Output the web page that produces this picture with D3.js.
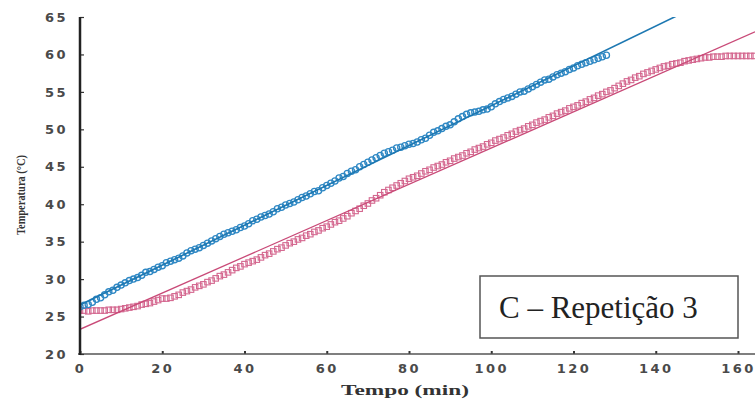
<!DOCTYPE html>
<html><head><meta charset="utf-8">
<script src="https://cdn.jsdelivr.net/npm/d3@7"></script>
<style>body{margin:0;background:#fff}svg{display:block}</style>
</head><body>
<svg id="c" width="755" height="402"></svg>
<script>
// ---- data ----
const xTicks = [0,20,40,60,80,100,120,140,160];
const yTicks = [20,25,30,35,40,45,50,55,60,65];
// Series 1 (blue circles), one reading per minute starting at t=0
const blueTemp = [26.3,26.5,26.6,26.9,27.3,27.5,27.9,28.3,28.5,28.9,
29.2,29.5,29.8,30.0,30.2,30.5,30.9,31.0,31.3,31.6,
31.8,32.2,32.4,32.6,32.8,33.1,33.5,33.8,34.0,34.2,
34.5,34.8,35.1,35.4,35.7,36.0,36.2,36.4,36.6,36.9,
37.1,37.4,37.8,38.0,38.3,38.5,38.7,39.0,39.4,39.6,
39.9,40.1,40.3,40.6,40.9,41.1,41.4,41.7,41.8,42.2,
42.5,42.8,43.1,43.5,43.7,44.1,44.4,44.6,45.0,45.3,
45.6,45.9,46.2,46.5,46.8,47.0,47.2,47.5,47.6,47.8,
48.0,48.1,48.3,48.6,48.8,49.2,49.6,49.8,50.1,50.4,
50.6,51.0,51.4,51.7,52.0,52.2,52.3,52.4,52.6,52.7,
53.0,53.4,53.7,54.0,54.2,54.4,54.7,55.0,55.1,55.4,
55.7,56.0,56.3,56.6,56.7,57.0,57.3,57.5,57.7,58.0,
58.2,58.5,58.7,58.9,59.1,59.3,59.5,59.7,59.9];
// Series 2 (pink squares), one reading per minute starting at t=0
const pinkTemp = [25.8,25.8,25.7,25.8,25.8,25.8,25.8,25.9,25.9,25.9,
26.0,26.1,26.2,26.3,26.4,26.6,26.7,26.8,27.0,27.2,
27.4,27.4,27.5,27.7,27.9,28.2,28.4,28.6,28.9,29.1,
29.3,29.6,29.8,30.1,30.4,30.6,30.9,31.2,31.5,31.7,
32.0,32.2,32.4,32.6,32.9,33.2,33.4,33.7,34.0,34.2,
34.5,34.8,35.0,35.3,35.5,35.8,36.0,36.3,36.5,36.8,
37.0,37.3,37.6,37.8,38.1,38.4,38.8,39.1,39.4,39.8,
40.1,40.5,40.8,41.2,41.6,41.9,42.2,42.5,42.8,43.1,
43.4,43.6,43.8,44.1,44.4,44.6,44.9,45.1,45.3,45.6,
45.8,46.1,46.3,46.5,46.8,47.0,47.3,47.5,47.7,48.0,
48.2,48.5,48.7,48.9,49.2,49.4,49.7,49.9,50.1,50.4,
50.6,50.9,51.1,51.3,51.6,51.8,52.1,52.3,52.5,52.8,
53.0,53.2,53.5,53.7,54.0,54.2,54.5,54.7,55.0,55.2,
55.5,55.8,56.1,56.4,56.6,56.9,57.1,57.4,57.6,57.8,
58.0,58.2,58.4,58.5,58.7,58.8,58.9,59.1,59.2,59.3,
59.4,59.5,59.6,59.6,59.7,59.7,59.7,59.8,59.8,59.8,
59.8,59.8,59.8,59.8,59.8];
// Linear fits: [intercept, slope]
const blueFit = [26.55, 0.266];
const pinkFit = [23.3, 0.242];
const annotation = "C – Repetição 3";
const xTitle = "Tempo (min)";
const yTitle = "Temperatura (°C)";

// ---- chart ----
const svg = d3.select("#c");
const x = d3.scaleLinear().domain([0,160]).range([80,738]);
const y = d3.scaleLinear().domain([20,65]).range([354,17]);
const xMax = x.invert(755);

svg.append("defs").append("clipPath").attr("id","clip")
  .append("rect").attr("x",80).attr("y",y(65)).attr("width",755-80).attr("height",y(20)-y(65));

const plot = svg.append("g").attr("clip-path","url(#clip)");

const pinkData = pinkTemp.map((v,i)=>({t:i,v}));
const blueData = blueTemp.map((v,i)=>({t:i,v}));
const sq = 5.5;
plot.append("g").selectAll("rect").data(pinkData).join("rect")
  .attr("x",d=>x(d.t)-sq/2).attr("y",d=>y(d.v)-sq/2)
  .attr("width",sq).attr("height",sq)
  .attr("fill","none").attr("stroke","#d4678f").attr("stroke-width",1.1);

plot.append("g").selectAll("circle").data(blueData).join("circle")
  .attr("cx",d=>x(d.t)).attr("cy",d=>y(d.v)).attr("r",3.1)
  .attr("fill","none").attr("stroke","#2f88c4").attr("stroke-width",1.3);

// fit lines
const line = d3.line().x(d=>x(d[0])).y(d=>y(d[1]));
function fitPts(f){ return [[0,f[0]],[xMax,f[0]+f[1]*xMax]]; }
plot.append("path").attr("d",line(fitPts(pinkFit)))
  .attr("stroke","#c94a78").attr("stroke-width",1.3).attr("fill","none");
plot.append("path").attr("d",line(fitPts(blueFit)))
  .attr("stroke","#1d78b2").attr("stroke-width",1.6).attr("fill","none");

// axes
const xAxis = d3.axisBottom(x).tickValues(xTicks).tickSize(0).tickPadding(7);
const gx = svg.append("g").attr("transform",`translate(0,${y(20)})`).call(xAxis);
gx.select(".domain").remove();
svg.append("line").attr("x1",78).attr("x2",755).attr("y1",y(20)).attr("y2",y(20))
  .attr("stroke","#555").attr("stroke-width",1.5);
gx.selectAll(".tick").append("rect").attr("x",-1).attr("y",-3).attr("width",2).attr("height",3).attr("fill","#333");
gx.selectAll("text").attr("font-family","DejaVu Sans").attr("font-weight","bold")
  .attr("font-size",13).attr("letter-spacing","2.5px").attr("fill","#4a4a4a").attr("dy","0.9em");

const yAxis = d3.axisLeft(y).tickValues(yTicks).tickSize(0).tickPadding(12);
const gy = svg.append("g").attr("transform",`translate(${x(0)},0)`).call(yAxis);
gy.select(".domain").remove();
svg.append("line").attr("x1",x(0)).attr("x2",x(0)).attr("y1",y(65)).attr("y2",y(20)+1)
  .attr("stroke","#222").attr("stroke-width",2.5);
gy.selectAll(".tick").append("line").attr("x1",0).attr("x2",4).attr("stroke","#333").attr("stroke-width",1.2);
gy.selectAll("text").attr("font-family","DejaVu Sans").attr("font-weight","bold")
  .attr("font-size",13).attr("letter-spacing","2.5px").attr("fill","#4a4a4a");

// titles
svg.append("text").attr("x",405).attr("y",395).attr("text-anchor","middle")
  .attr("font-family","Liberation Serif").attr("font-weight","bold").attr("font-size",15)
  .attr("textLength",128).attr("lengthAdjust","spacingAndGlyphs").attr("fill","#333").text(xTitle);
svg.append("text").attr("transform","translate(25,195) rotate(-90)").attr("text-anchor","middle")
  .attr("font-family","Liberation Serif").attr("font-weight","bold").attr("font-size",12)
  .attr("textLength",80).attr("lengthAdjust","spacingAndGlyphs").attr("fill","#333").text(yTitle);

// annotation box
svg.append("rect").attr("x",480).attr("y",276).attr("width",258).attr("height",62)
  .attr("fill","#fff").attr("stroke","#555").attr("stroke-width",1.5);
svg.append("text").attr("x",499).attr("y",318)
  .attr("font-family","Liberation Serif").attr("font-size",31).attr("fill","#222").text(annotation);
</script>
</body></html>
